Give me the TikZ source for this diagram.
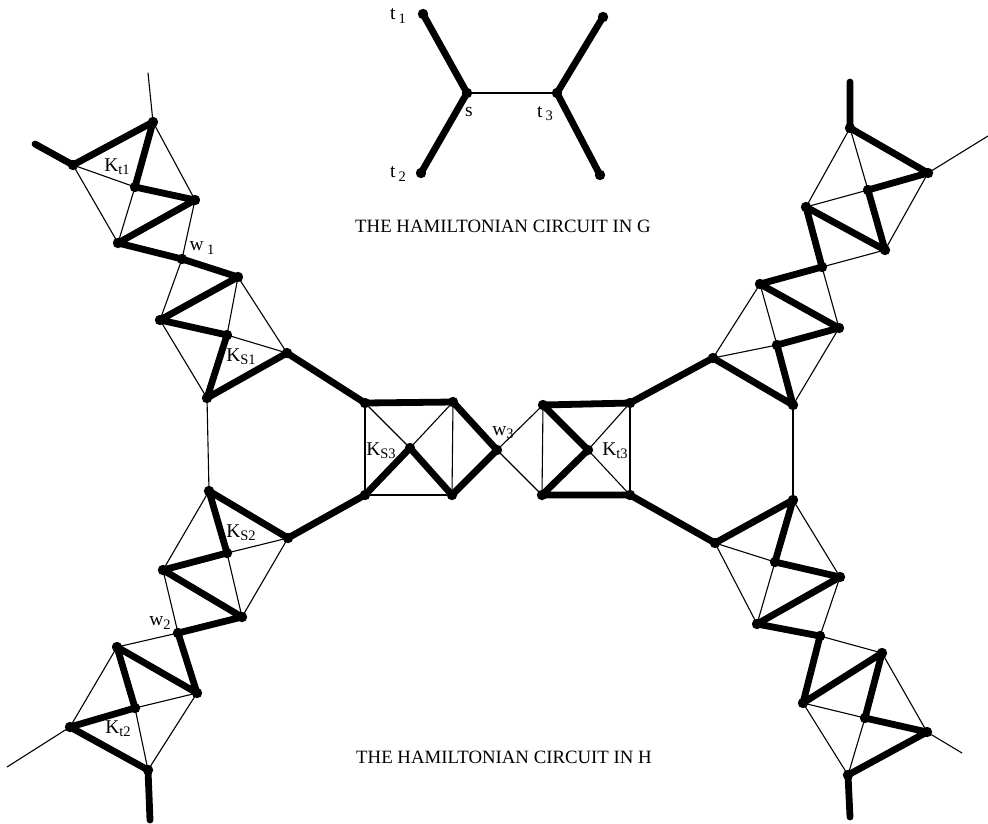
\documentclass[tikz,border=0pt]{standalone}
\usepackage{fontspec}
\setmainfont{Liberation Serif}
\newcommand{\lsub}[1]{\raisebox{-0.35ex}{\fontsize{14.5}{15}\selectfont #1}}
\begin{document}
\begin{tikzpicture}[
    x=1pt, y=-1pt,
    font=\fontsize{19.5}{21}\selectfont,
    hamedge/.style   = {draw=black, line width=6.8pt, line cap=round, line join=round},
    plainedge/.style = {draw=black, line width=1.1pt, line cap=round},
    lbl/.style       = {inner sep=0pt},
    title/.style     = {inner sep=0pt, font=\fontsize{18.8}{21}\selectfont},
  ]
  \useasboundingbox (0,0) rectangle (988,823);

  % --- Graph G ---------------------------------------------------------
  \coordinate (t1) at (423,14);
  \coordinate (s)  at (467,93);
  \coordinate (t2) at (421,173);
  \coordinate (t3) at (557,93);
  \coordinate (g4) at (603,17);
  \coordinate (g5) at (600,175);

  \node[lbl] (lt1) at (398,16)  {t\,\lsub{1}};
  \node[lbl] (ls)  at (469,112) {s};
  \node[lbl] (lt3) at (545,114) {t\,\lsub{3}};
  \node[lbl] (lt2) at (398,174) {t\,\lsub{2}};
  \node[title] (titleG) at (503,226) {THE HAMILTONIAN CIRCUIT IN G};

  % --- Graph H: left gadgets ------------------------------------------
  % K_t1
  \coordinate (taEnd) at (148,73);
  \coordinate (tbEnd) at (35,144);
  \coordinate (ta) at (153,122);
  \coordinate (tb) at (73,165);
  \coordinate (tc) at (135,187);
  \coordinate (td) at (195,200);
  \coordinate (te) at (118,243);
  \coordinate (w1) at (182,259);
  % K_S1
  \coordinate (sa) at (238,277);
  \coordinate (sb) at (160,320);
  \coordinate (sc) at (227,335);
  \coordinate (sd) at (287,353);
  \coordinate (se) at (207,398);
  % K_S2
  \coordinate (ua) at (209,491);
  \coordinate (ud) at (288,538);
  \coordinate (uc) at (227,553);
  \coordinate (ub) at (163,570);
  \coordinate (ue) at (242,617);
  \coordinate (w2) at (178,633);
  % K_t2
  \coordinate (va) at (117,647);
  \coordinate (vd) at (197,693);
  \coordinate (vc) at (135,708);
  \coordinate (vb) at (70,727);
  \coordinate (ve) at (148,770);
  \coordinate (vbEnd) at (7,767);
  \coordinate (veEnd) at (150,820);

  % --- Graph H: middle ------------------------------------------------
  \coordinate (xa) at (365,403);
  \coordinate (xb) at (453,402);
  \coordinate (xc) at (410,448);
  \coordinate (xd) at (365,495);
  \coordinate (xe) at (452,495);
  \coordinate (w3) at (497,450);
  \coordinate (ya) at (543,405);
  \coordinate (yb) at (630,403);
  \coordinate (yc) at (588,450);
  \coordinate (yd) at (542,495);
  \coordinate (ye) at (630,495);

  % --- Graph H: right gadgets -----------------------------------------
  \coordinate (a1End) at (850,82);
  \coordinate (a2End) at (988,136);
  \coordinate (a1) at (850,128);
  \coordinate (a2) at (928,173);
  \coordinate (a3) at (868,190);
  \coordinate (a4) at (806,207);
  \coordinate (a5) at (885,250);
  \coordinate (w4) at (822,267);
  \coordinate (b1) at (760,284);
  \coordinate (b2) at (839,328);
  \coordinate (b3) at (777,345);
  \coordinate (b4) at (713,358);
  \coordinate (b5) at (793,405);
  \coordinate (c1) at (793,500);
  \coordinate (c2) at (715,543);
  \coordinate (c3) at (775,562);
  \coordinate (c4) at (840,577);
  \coordinate (c5) at (757,624);
  \coordinate (w5) at (820,636);
  \coordinate (d1) at (882,653);
  \coordinate (d2) at (803,703);
  \coordinate (d3) at (865,718);
  \coordinate (d4) at (927,732);
  \coordinate (d5) at (848,775);
  \coordinate (d4End) at (962,753);
  \coordinate (d5End) at (850,817);

  % Edges not on the circuit
  \foreach \p/\q in {s/t3,
      taEnd/ta, ta/td, tb/tc, tb/te, tc/te, td/w1, w1/sb,
      sa/sc, sa/sd, sc/sd, sb/se, se/ua,
      ua/ub, uc/ud, uc/ue, ud/ue, ub/w2, w2/va,
      va/vb, vc/vd, vc/ve, vd/ve, vb/vbEnd,
      xa/xd, xa/xc, xb/xc, xb/xe, xd/xe, w3/ya, w3/yd,
      ya/yd, yb/yc, yc/ye, yb/ye,
      a2/a2End, a1/a4, a1/a3, a3/a4, a2/a5, a5/w4, w4/b2,
      b1/b4, b1/b3, b3/b4, b2/b5, b5/c1,
      c2/c3, c2/c5, c3/c5, c1/c4, w5/c4, w5/d1,
      d1/d4, d2/d3, d2/d5, d3/d5, d4/d4End}
    \draw[plainedge] (\p) -- (\q);

  % Hamiltonian circuit
  \draw[hamedge] (t1) -- (s) -- (t2);
  \draw[hamedge] (g4) -- (t3) -- (g5);
  \draw[hamedge] (tbEnd) -- (tb) -- (ta) -- (tc) -- (td) -- (te) -- (w1)
    -- (sa) -- (sb) -- (sc) -- (se) -- (sd) -- (xa) -- (xb) -- (w3)
    -- (xe) -- (xc) -- (xd) -- (ud) -- (ua) -- (uc) -- (ub) -- (ue)
    -- (w2) -- (vd) -- (va) -- (vc) -- (vb) -- (ve) -- (veEnd);
  \draw[hamedge] (a1End) -- (a1) -- (a2) -- (a3) -- (a5) -- (a4) -- (w4)
    -- (b1) -- (b2) -- (b3) -- (b5) -- (b4) -- (yb) -- (ya) -- (yc)
    -- (yd) -- (ye) -- (c2) -- (c1) -- (c3) -- (c4) -- (c5) -- (w5)
    -- (d2) -- (d1) -- (d3) -- (d4) -- (d5) -- (d5End);

  % Vertices
  \foreach \v in {t1,s,t2,t3,g4,g5,
      ta,tb,tc,td,te,w1,sa,sb,sc,sd,se,ua,ub,uc,ud,ue,w2,va,vb,vc,vd,ve,
      xa,xb,xc,xd,xe,w3,ya,yb,yc,yd,ye,
      a1,a2,a3,a4,a5,w4,b1,b2,b3,b4,b5,c1,c2,c3,c4,c5,w5,d1,d2,d3,d4,d5}
    \fill (\v) circle (5.2);

  % Labels
  \node[lbl] (lKt1) at (117,167) {K\lsub{t1}};
  \node[lbl] (lw1)  at (202,248) {w\,\lsub{1}};
  \node[lbl] (lKS1) at (241,357) {K\lsub{S1}};
  \node[lbl] (lKS2) at (241,533) {K\lsub{S2}};
  \node[lbl] (lw2)  at (160,623) {w\lsub{2}};
  \node[lbl] (lKt2) at (118,729) {K\lsub{t2}};
  \node[lbl] (lKS3) at (381,451) {K\lsub{S3}};
  \node[lbl] (lw3)  at (503,433) {w\lsub{3}};
  \node[lbl] (lKt3) at (615,451) {K\lsub{t3}};
  \node[title] (titleH) at (504,757) {THE HAMILTONIAN CIRCUIT IN H};

\end{tikzpicture}
\end{document}
